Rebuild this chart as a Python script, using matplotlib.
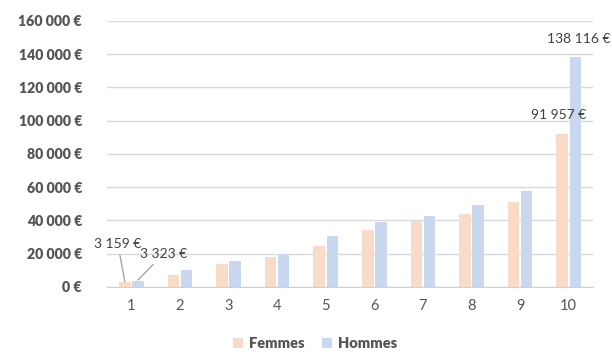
import numpy as np
import matplotlib
matplotlib.use("Agg")
import matplotlib.pyplot as plt

plt.rcParams['font.family'] = ['Lato', 'DejaVu Sans']

deciles = [1, 2, 3, 4, 5, 6, 7, 8, 9, 10]
femmes = [3159, 7000, 13900, 18100, 24900, 34300, 39800, 44000, 51000, 91957]
hommes = [3323, 10200, 15500, 19500, 30900, 39000, 42800, 49400, 57800, 138116]
yticks = [0, 20000, 40000, 60000, 80000, 100000, 120000, 140000, 160000]

col_f = "#F9DCC8"
col_h = "#C9D8EE"
txt = "#555555"

def euro(v):
    return "{:,.0f} €".format(v).replace(",", " ")

fig = plt.figure(figsize=(6.12, 3.6), dpi=100)
ax = fig.add_axes([0.175, 0.203, 0.794, 0.739])

x = np.array(deciles)
w = 0.235
off = 0.135
ax.bar(x - off, femmes, w, color=col_f, label="Femmes", zorder=2)
ax.bar(x + off, hommes, w, color=col_h, label="Hommes", zorder=2)

ax.set_xlim(0.5, 10.5)
ax.set_ylim(0, 160000)
ax.set_yticks(yticks, labels=[euro(v) for v in yticks], fontweight="heavy",
              fontsize=10.2, color=txt)
ax.set_xticks(x)
ax.grid(axis="y", color="#D9D9D9", linewidth=1, zorder=0)
for s in ["top", "right", "left"]:
    ax.spines[s].set_visible(False)
ax.spines["bottom"].set_color("#D0D0D0")
ax.tick_params(axis="y", length=0, pad=18)
ax.tick_params(axis="x", length=0, pad=9, labelsize=10.5, labelcolor=txt)

# data labels
lab = dict(fontsize=10, color="#404040")
ax.annotate(euro(femmes[0]), xy=(1 - off, femmes[0]), xytext=(0.72, 22500),
            ha="center", va="bottom", arrowprops=dict(arrowstyle="-", color="#A6A6A6", lw=1, shrinkA=2, shrinkB=0), **lab)
ax.annotate(euro(hommes[0]), xy=(1 + off, hommes[0] + 800), xytext=(1.66, 16300),
            ha="center", va="bottom", arrowprops=dict(arrowstyle="-", color="#A6A6A6", lw=1, shrinkA=2, shrinkB=0), **lab)
ax.annotate(euro(femmes[9]), xy=(1.0, 103500), xycoords=("axes fraction", "data"),
            xytext=(-7, 0), textcoords="offset pixels", ha="right", va="center", **lab)
ax.annotate(euro(hommes[9]), xy=(1.0, 149400), xycoords=("axes fraction", "data"),
            xytext=(17, 0), textcoords="offset pixels", ha="right", va="center",
            annotation_clip=False, **lab)

leg = fig.legend(loc="lower center", bbox_to_anchor=(0.515, -0.01), ncol=2, frameon=False,
                 handlelength=0.7, handleheight=0.7, handletextpad=0.4, columnspacing=1.2,
                 prop={"weight": "heavy", "size": 10.5})
for t in leg.get_texts():
    t.set_color(txt)

fig.savefig("out.png", dpi=100)
